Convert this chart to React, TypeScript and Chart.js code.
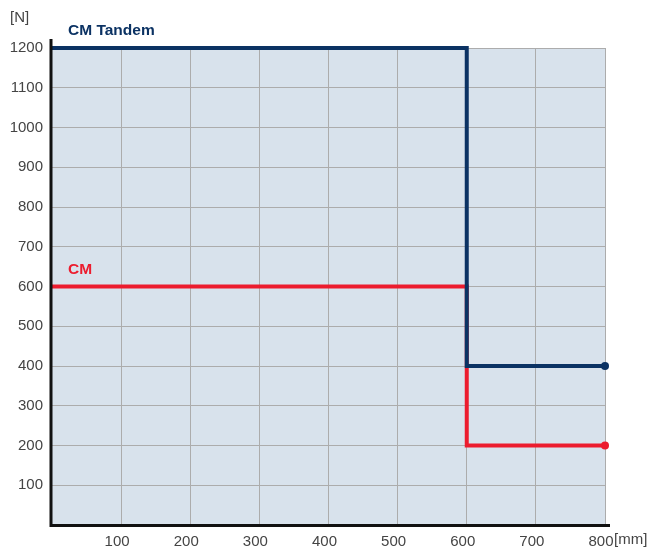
import React, { useEffect, useRef } from "react";
import { Chart, registerables } from "chart.js";

Chart.register(...registerables);

const xValues = [0, 600, 600, 800];
const tandemValues = [1200, 1200, 400, 400];
const cmValues = [600, 600, 200, 200];
const xTicks = [100, 200, 300, 400, 500, 600, 700, 800];
const yTicks = [100, 200, 300, 400, 500, 600, 700, 800, 900, 1000, 1100, 1200];

const NAVY = "#0b3263";
const RED = "#ec1c2e";
const FONT = "'Liberation Sans', Arial, sans-serif";

export default function App() {
  const ref = useRef<HTMLCanvasElement | null>(null);
  useEffect(() => {
    document.body.style.margin = "0";
    const canvas = ref.current!;
    const overlay = {
      id: "overlay",
      beforeDraw(chart: any) {
        const { ctx, chartArea } = chart;
        ctx.save();
        ctx.fillStyle = "#d8e2ec";
        ctx.fillRect(chartArea.left, chartArea.top, chartArea.right - chartArea.left, chartArea.bottom - chartArea.top);
        ctx.restore();
      },
      afterDraw(chart: any) {
        const { ctx, chartArea, scales } = chart;
        ctx.save();
        ctx.strokeStyle = "#111";
        ctx.lineWidth = 3;
        ctx.beginPath();
        ctx.moveTo(chartArea.left - 1, chartArea.top - 9);
        ctx.lineTo(chartArea.left - 1, chartArea.bottom + 2);
        ctx.moveTo(chartArea.left - 2, chartArea.bottom + 0.5);
        ctx.lineTo(chartArea.right + 5, chartArea.bottom + 0.5);
        ctx.stroke();
        ctx.font = `15px ${FONT}`;
        ctx.fillStyle = "#444";
        ctx.textBaseline = "middle";
        ctx.textAlign = "left";
        ctx.fillText("[N]", 10, 18);
        ctx.fillText("[mm]", chartArea.right + 9, chartArea.bottom + 15);
        ctx.font = `bold 15.5px ${FONT}`;
        const x0 = scales.x.getPixelForValue(0) + 16;
        ctx.fillStyle = NAVY;
        ctx.fillText("CM Tandem", x0, scales.y.getPixelForValue(tandemValues[0]) - 17);
        ctx.fillStyle = RED;
        ctx.fillText("CM", x0, scales.y.getPixelForValue(cmValues[0]) - 17);
        ctx.restore();
      },
    };
    const lastOnly = (n: number) => xValues.map((_, i) => (i === xValues.length - 1 ? n : 0));
    const chart = new Chart(canvas, {
      type: "line",
      data: {
        datasets: [
          {
            label: "CM Tandem",
            data: xValues.map((x, i) => ({ x, y: tandemValues[i] })),
            borderColor: NAVY,
            backgroundColor: NAVY,
            borderWidth: 4,
            pointRadius: lastOnly(4),
            pointBorderWidth: 0,
            clip: false as any,
            order: 0,
          },
          {
            label: "CM",
            data: xValues.map((x, i) => ({ x, y: cmValues[i] })),
            borderColor: RED,
            backgroundColor: RED,
            borderWidth: 4,
            pointRadius: lastOnly(4),
            pointBorderWidth: 0,
            clip: false as any,
            order: 1,
          },
        ],
      },
      plugins: [overlay],
      options: {
        animation: false,
        responsive: false,
        layout: { padding: { left: 0, right: 46, top: 48, bottom: 0 } },
        plugins: { legend: { display: false }, tooltip: { enabled: false } },
        scales: {
          x: {
            type: "linear",
            min: 0,
            max: 800,
            afterFit(scale: any) {
              scale.height = 25;
            },
            afterBuildTicks(scale: any) {
              scale.ticks = xTicks.map((v) => ({ value: v }));
            },
            grid: { color: "#acacac", lineWidth: 1, drawTicks: false },
            border: { display: false },
            ticks: {
              color: "#444",
              font: { family: FONT, size: 15 },
              padding: 8,
              labelOffset: -4,
              callback: (v: any) => String(v),
            },
          },
          y: {
            type: "linear",
            min: 0,
            max: 1200,
            afterFit(scale: any) {
              scale.width = 52;
            },
            afterBuildTicks(scale: any) {
              scale.ticks = yTicks.map((v) => ({ value: v }));
            },
            grid: { color: "#acacac", lineWidth: 1, drawTicks: false },
            border: { display: false },
            ticks: {
              color: "#444",
              font: { family: FONT, size: 15 },
              padding: 9,
              callback: (v: any) => String(v),
            },
          },
        },
      },
    });
    return () => chart.destroy();
  }, []);
  return <canvas ref={ref} width={651} height={550} style={{ display: "block" }} />;
}
